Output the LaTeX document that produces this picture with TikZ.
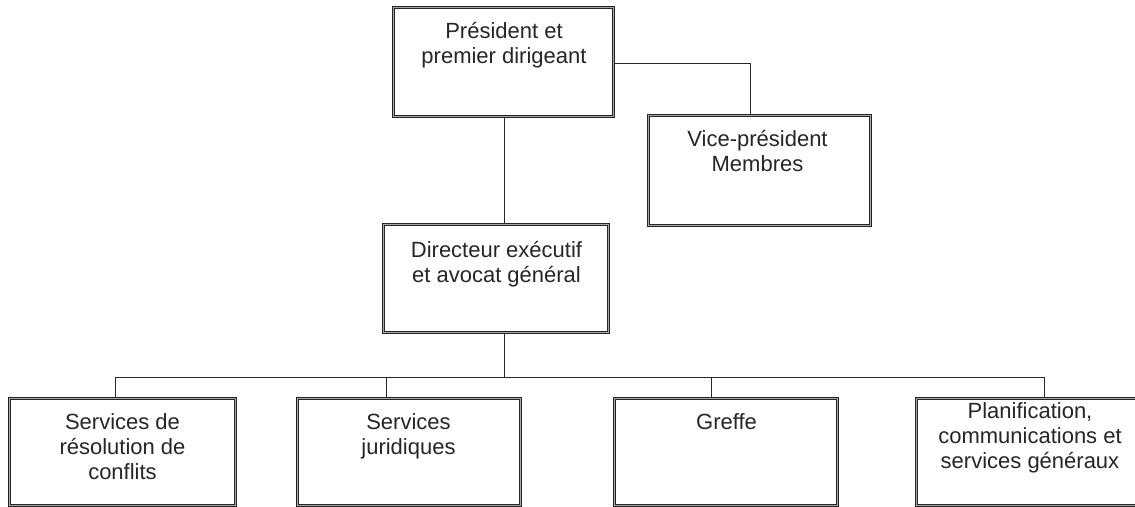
\documentclass[tikz,border=0pt]{standalone}
\usepackage{fontspec}
\setmainfont{Liberation Sans}
\usetikzlibrary{calc}
\tikzset{
  orgbox/.style={draw=black!85, line width=0.9pt, double=black!35, double distance=0.9pt, fill=white, rectangle, inner sep=0pt},
  orgtext/.style={anchor=north, inner sep=0pt, align=center, text=black!85, font={\fontsize{22}{25}\selectfont}},
  link/.style={draw=black!85, line width=0.8pt}
}
\begin{document}
\begin{tikzpicture}[x=1pt,y=-1pt]
\useasboundingbox (0,0) rectangle (1135,506);
\clip (0,0) rectangle (1135,506);
\fill[white] (0,0) rectangle (1135,506);

% boxes
\node[orgbox, minimum width=220.3pt, minimum height=109.3pt] (P) at (503.5,62) {};
\node[orgbox, minimum width=222.3pt, minimum height=110.3pt] (V) at (759.5,170.5) {};
\node[orgbox, minimum width=225.3pt, minimum height=108.3pt] (D) at (496,278.5) {};
\node[orgbox, minimum width=226.3pt, minimum height=107.3pt] (B1) at (122.5,452) {};
\node[orgbox, minimum width=223.3pt, minimum height=107.3pt] (B2) at (409,452) {};
\node[orgbox, minimum width=223.3pt, minimum height=107.3pt] (B3) at (726,452) {};
\node[orgbox, minimum width=227.3pt, minimum height=107.3pt] (B4) at (1030,452) {};

% texts
\node[orgtext] (tP) at (504,22) {Président et\\premier dirigeant};
\node[orgtext] (tV) at (757.5,130) {Vice-président\\Membres};
\node[orgtext] (tD) at (496.5,241) {Directeur exécutif\\et avocat général};
\node[orgtext] (tB1) at (122.5,413) {Services de\\résolution de\\conflits};
\node[orgtext] (tB2) at (408.5,413) {Services\\juridiques};
\node[orgtext] (tB3) at (726.5,413) {Greffe};
\node[orgtext] (tB4) at (1030,402) {Planification,\\communications et\\services généraux};

% connectors
\coordinate (pv) at (750,63);
\coordinate (pd) at (504,0);
\coordinate (bus) at (504,377);
\coordinate (d1) at (115,377);
\coordinate (d2) at (386,377);
\coordinate (d3) at (711,377);
\coordinate (d4) at (1044,377);

\draw[link] (P.east |- pv) -- (pv) -- (pv |- V.north);
\draw[link] (pd |- P.south) -- (pd |- D.north);
\draw[link] (bus |- D.south) -- (bus);
\draw[link] (d1) -- (d4);
\draw[link] (d1) -- (d1 |- B1.north);
\draw[link] (d2) -- (d2 |- B2.north);
\draw[link] (d3) -- (d3 |- B3.north);
\draw[link] (d4) -- (d4 |- B4.north);
\end{tikzpicture}
\end{document}
